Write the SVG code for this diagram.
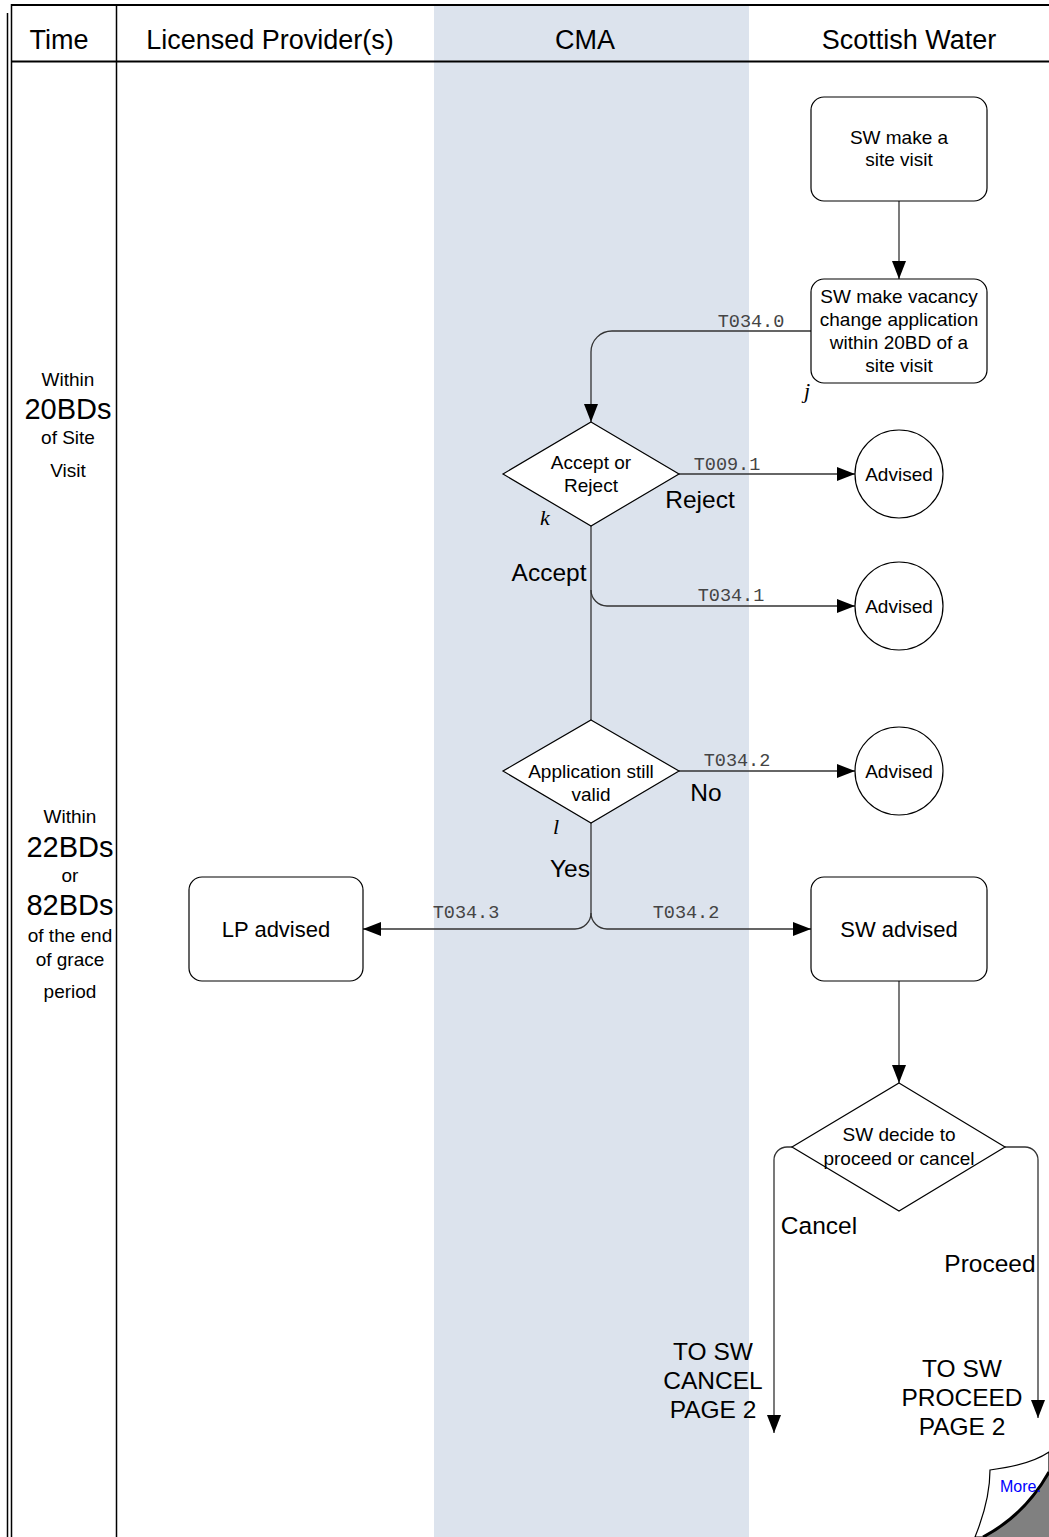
<svg xmlns="http://www.w3.org/2000/svg" width="1049" height="1537" viewBox="0 0 1049 1537">
<style>
.frame{stroke:#000;fill:none}
.node{fill:#fff;stroke:#000;stroke-width:1.2}
.t{font-family:"Liberation Sans",Arial,sans-serif;fill:#000;text-anchor:middle}
.nt{font-size:19px}
.big{font-size:24.5px}
.hdr{font-size:27px}
.code{font-family:"Liberation Mono","Courier New",monospace;font-size:18.5px;fill:#444;text-anchor:middle}
.it{font-family:"Liberation Serif","Times New Roman",serif;font-style:italic;font-size:22px;fill:#000;text-anchor:middle}
.c{fill:none;stroke:#333;stroke-width:1.3}
</style>
<defs>
<marker id="ah" markerUnits="userSpaceOnUse" markerWidth="19" markerHeight="15" refX="18" refY="7" orient="auto">
<path d="M0,0 L18,7 L0,14 z" fill="#000"/>
</marker>
</defs>
<rect width="1049" height="1537" fill="#fff"/>
<rect x="434" y="6" width="315" height="1531" fill="#dce3ed"/>
<g id="frame">
<line class="frame" x1="11" y1="5" x2="1049" y2="5" stroke-width="2.2"/>
<line class="frame" x1="11" y1="61.5" x2="1049" y2="61.5" stroke-width="2.2"/>
<line class="frame" x1="7.5" y1="13" x2="7.5" y2="1537" stroke-width="1.5"/>
<line class="frame" x1="11.5" y1="4" x2="11.5" y2="1537" stroke-width="1.5"/>
<line class="frame" x1="116.5" y1="5" x2="116.5" y2="1537" stroke-width="1.5"/>
</g>
<g id="headers">
<text class="t hdr" x="59" y="49">Time</text>
<text class="t hdr" x="270" y="49">Licensed Provider(s)</text>
<text class="t hdr" x="585" y="49">CMA</text>
<text class="t hdr" x="909" y="49">Scottish Water</text>
</g>
<g id="time1">
<text class="t nt" x="68" y="386">Within</text>
<text class="t" x="68" y="419" font-size="29">20BDs</text>
<text class="t nt" x="68" y="444">of Site</text>
<text class="t nt" x="68" y="477">Visit</text>
</g>
<g id="time2">
<text class="t nt" x="70" y="823">Within</text>
<text class="t" x="70" y="857" font-size="29">22BDs</text>
<text class="t nt" x="70" y="882">or</text>
<text class="t" x="70" y="915" font-size="29">82BDs</text>
<text class="t nt" x="70" y="942">of the end</text>
<text class="t nt" x="70" y="966">of grace</text>
<text class="t nt" x="70" y="998">period</text>
</g>
<g id="connectors">
<line class="c" x1="899" y1="201" x2="899" y2="279" marker-end="url(#ah)"/>
<path class="c" d="M811,331 H612 A21,21 0 0 0 591,352 V422" marker-end="url(#ah)"/>
<line class="c" x1="679" y1="474" x2="855" y2="474" marker-end="url(#ah)"/>
<line class="c" x1="591" y1="526" x2="591" y2="720"/>
<path class="c" d="M591,590 A16,16 0 0 0 607,606 H855" marker-end="url(#ah)"/>
<line class="c" x1="679" y1="771" x2="855" y2="771" marker-end="url(#ah)"/>
<path class="c" d="M591,823 V913 A16,16 0 0 1 575,929 H363" marker-end="url(#ah)"/>
<path class="c" d="M591,913 A16,16 0 0 0 607,929 H811" marker-end="url(#ah)"/>
<line class="c" x1="899" y1="981" x2="899" y2="1083" marker-end="url(#ah)"/>
<path class="c" d="M792,1147 H787 A13,13 0 0 0 774,1160 V1433" marker-end="url(#ah)"/>
<path class="c" d="M1005,1147 H1025 A13,13 0 0 1 1038,1160 V1418" marker-end="url(#ah)"/>
<text class="code" x="751" y="327">T034.0</text>
<text class="code" x="727" y="470">T009.1</text>
<text class="code" x="731" y="601">T034.1</text>
<text class="code" x="737" y="766">T034.2</text>
<text class="code" x="466" y="918">T034.3</text>
<text class="code" x="686" y="918">T034.2</text>
<text class="t big" x="700" y="508">Reject</text>
<text class="t big" x="549" y="581">Accept</text>
<text class="t big" x="706" y="801">No</text>
<text class="t big" x="570" y="877">Yes</text>
<text class="t big" x="819" y="1234">Cancel</text>
<text class="t big" x="990" y="1272">Proceed</text>
</g>
<g id="n_sitevisit">
<rect class="node" x="811" y="97" width="176" height="104" rx="13"/>
<text class="t nt" x="899" y="144">SW make a</text>
<text class="t nt" x="899" y="166">site visit</text>
</g>
<g id="n_vacancy">
<rect class="node" x="811" y="279" width="176" height="104" rx="13"/>
<text class="t nt" x="899" y="303">SW make vacancy</text>
<text class="t nt" x="899" y="326">change application</text>
<text class="t nt" x="899" y="349">within 20BD of a</text>
<text class="t nt" x="899" y="372">site visit</text>
<text class="it" x="807" y="398">j</text>
</g>
<g id="n_accept">
<polygon class="node" points="591,422 679,474 591,526 503,474"/>
<text class="t nt" x="591" y="469">Accept or</text>
<text class="t nt" x="591" y="492">Reject</text>
<text class="it" x="545" y="525">k</text>
</g>
<g id="n_adv1">
<circle class="node" cx="899" cy="474" r="44"/>
<text class="t nt" x="899" y="481">Advised</text>
</g>
<g id="n_adv2">
<circle class="node" cx="899" cy="606" r="44"/>
<text class="t nt" x="899" y="613">Advised</text>
</g>
<g id="n_valid">
<polygon class="node" points="591,720 679,771 591,823 503,771"/>
<text class="t nt" x="591" y="778">Application still</text>
<text class="t nt" x="591" y="801">valid</text>
<text class="it" x="556" y="834">l</text>
</g>
<g id="n_adv3">
<circle class="node" cx="899" cy="771" r="44"/>
<text class="t nt" x="899" y="778">Advised</text>
</g>
<g id="n_lp">
<rect class="node" x="189" y="877" width="174" height="104" rx="13"/>
<text class="t" x="276" y="937" font-size="22">LP advised</text>
</g>
<g id="n_sw">
<rect class="node" x="811" y="877" width="176" height="104" rx="13"/>
<text class="t" x="899" y="937" font-size="22">SW advised</text>
</g>
<g id="n_decide">
<polygon class="node" points="899,1083 1005,1147 899,1211 792,1147" fill-opacity="0"/>
<text class="t nt" x="899" y="1141">SW decide to</text>
<text class="t nt" x="899" y="1165">proceed or cancel</text>
</g>
<g id="n_cancel">
<text class="t big" x="713" y="1360">TO SW</text>
<text class="t big" x="713" y="1389">CANCEL</text>
<text class="t big" x="713" y="1418">PAGE 2</text>
</g>
<g id="n_proceed">
<text class="t big" x="962" y="1377">TO SW</text>
<text class="t big" x="962" y="1406">PROCEED</text>
<text class="t big" x="962" y="1435">PAGE 2</text>
</g>
<g id="n_more">
<path d="M990,1470 Q1030,1465 1049,1452 V1537 H975 Q990,1500 990,1470 z" fill="#fff" stroke="#000" stroke-width="1.2"/>
<path d="M983,1537 Q1025,1515 1049,1472 V1537 z" fill="#808080" stroke="none"/>
<path d="M983,1537 Q1025,1515 1049,1472" fill="none" stroke="#000" stroke-width="3"/>
<text x="1000" y="1492" font-family="Liberation Sans,Arial,sans-serif" font-size="16" fill="#0000ff">More.</text>
</g>
</svg>
